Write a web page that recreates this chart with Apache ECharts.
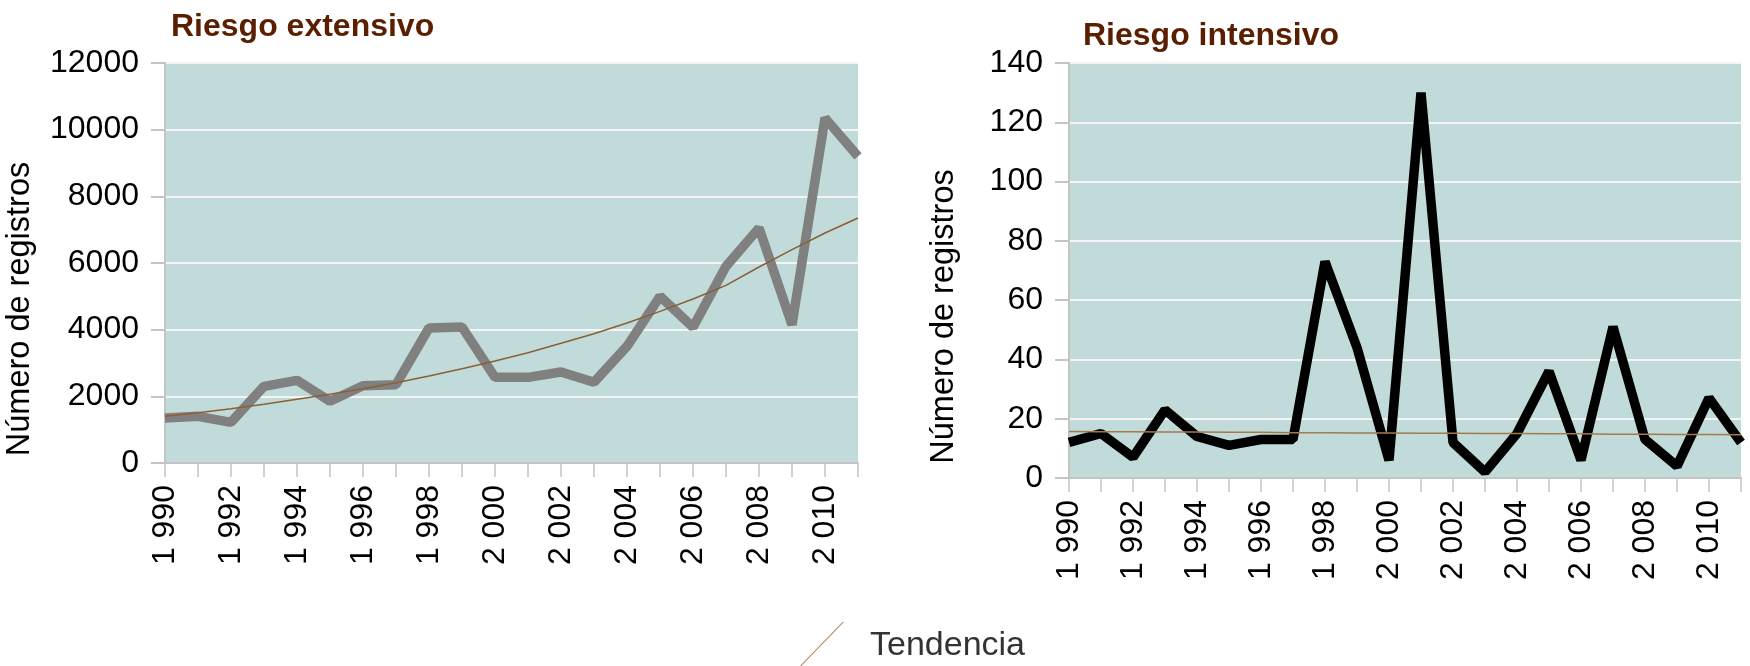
<!DOCTYPE html>
<html>
<head>
<meta charset="utf-8">
<script src="https://cdn.jsdelivr.net/npm/echarts@6/dist/echarts.min.js"></script>
<style>
html,body{margin:0;padding:0;background:#fff;}
#c{width:1750px;height:666px;}
</style>
</head>
<body>
<div id="c"></div>
<script>
// ---- data ----
const years = ['1 990','1 991','1 992','1 993','1 994','1 995','1 996','1 997','1 998','1 999','2 000','2 001','2 002','2 003','2 004','2 005','2 006','2 007','2 008','2 009','2 010','2 011'];
const extensivo = [1350,1400,1220,2300,2480,1850,2320,2350,4050,4080,2570,2570,2730,2420,3500,5000,4070,5900,7050,4150,10350,9200];
const extensivoTrend = [1400,1510,1630,1760,1910,2060,2230,2410,2610,2830,3060,3310,3590,3880,4200,4550,4920,5330,5880,6400,6900,7350];
const intensivo = [12,15,7,23,14,11,13,13,73,44,6,130,12,2,15,36,6,51,13,4,27,12];
const intensivoTrend = [15.7,15.6,15.6,15.5,15.5,15.4,15.4,15.3,15.3,15.2,15.2,15.1,15.1,15.0,15.0,14.9,14.9,14.8,14.8,14.7,14.7,14.6];
const titles = ['Riesgo extensivo','Riesgo intensivo'];
const yName = 'Número de registros';
const trendName = 'Tendencia';

// ---- styles ----
const BG = '#c0dbd9';
const AXIS = '#c4c4c4';
const TREND = '#8c5e34';
const FONT = "'Liberation Sans', Arial, sans-serif";

function xAx(gi){
  return {
    type:'category', gridIndex:gi, data:years, boundaryGap:false,
    axisLine:{show:true, lineStyle:{color:AXIS,width:2}},
    axisTick:{show:true, interval:0, length:14, lineStyle:{color:AXIS,width:1.5}},
    axisLabel:{interval:1, rotate:90, margin:22, color:'#000', fontSize:32, fontFamily:FONT},
    splitLine:{show:false}
  };
}
function yAx(gi,max,interval,gap){
  return {
    type:'value', gridIndex:gi, min:0, max:max, interval:interval,
    name:yName, nameLocation:'middle', nameGap:gap,
    nameTextStyle:{color:'#000', fontSize:32.5, fontFamily:FONT, padding:[0,92,0,0]},
    axisLine:{show:true, lineStyle:{color:AXIS,width:2}},
    axisTick:{show:true, length:14, lineStyle:{color:AXIS,width:2}},
    axisLabel:{margin:26, color:'#000', fontSize:32, fontFamily:FONT, formatter:function(v){return String(v);}},
    splitLine:{show:true, lineStyle:{color:'#f4f4f4', width:2}}
  };
}

const chart = echarts.init(document.getElementById('c'), null, {renderer:'canvas'});
chart.setOption({
  animation:false,
  backgroundColor:'#fff',
  title:[
    {text:titles[0], left:166, top:6, textStyle:{color:'#5a1e00', fontSize:32, fontWeight:'bold', fontFamily:FONT}},
    {text:titles[1], left:1078, top:15, textStyle:{color:'#5a1e00', fontSize:32, fontWeight:'bold', fontFamily:FONT}}
  ],
  legend:{
    data:[trendName], left:791, top:617, itemWidth:50, itemHeight:48, itemGap:22,
    icon:'path://M0,100 L97,0 L100,0 L3,100 Z',
    itemStyle:{color:'#b08a62'},
    textStyle:{color:'#333', fontSize:34, fontFamily:FONT, padding:[0,0,0,20]}
  },
  grid:[
    {left:165, top:63, width:693, height:400, show:true, backgroundColor:BG, borderWidth:0, containLabel:false},
    {left:1069, top:63, width:672, height:415, show:true, backgroundColor:BG, borderWidth:0, containLabel:false}
  ],
  xAxis:[xAx(0), xAx(1)],
  yAxis:[yAx(0,12000,2000,128), yAx(1,140,20,108)],
  series:[
    {type:'line', name:'Riesgo extensivo', xAxisIndex:0, yAxisIndex:0, data:extensivo, symbol:'none',
     lineStyle:{color:'#808080', width:9.5}, itemStyle:{color:'#808080'}, z:2},
    {type:'line', name:trendName, xAxisIndex:0, yAxisIndex:0, data:extensivoTrend, symbol:'none',
     lineStyle:{color:TREND, width:1.5}, itemStyle:{color:'#b08a62'}, z:3},
    {type:'line', name:'Riesgo intensivo', xAxisIndex:1, yAxisIndex:1, data:intensivo, symbol:'none',
     lineStyle:{color:'#000', width:9.5}, itemStyle:{color:'#000'}, z:2},
    {type:'line', name:trendName, xAxisIndex:1, yAxisIndex:1, data:intensivoTrend, symbol:'none',
     lineStyle:{color:'#a47a4c', width:1.5}, itemStyle:{color:'#b08a62'}, z:3}
  ]
});
</script>
</body>
</html>
